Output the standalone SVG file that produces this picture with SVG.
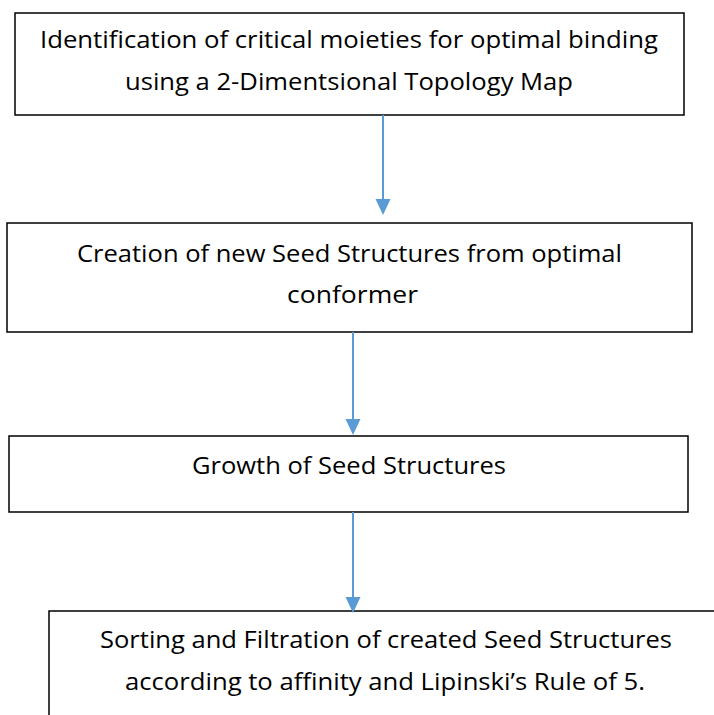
<svg xmlns="http://www.w3.org/2000/svg" width="714" height="715" viewBox="0 0 714 715">
  <style>
    .box { fill: #ffffff; stroke: #000000; stroke-width: 1.5; }
    .lbl { font-family: "Open Sans", "Liberation Sans", sans-serif; font-size: 23.5px; fill: #000000; text-anchor: middle; }
    .conn { stroke: #5B9BD5; stroke-width: 2; fill: none; marker-end: url(#arrow); }
  </style>
  <defs>
    <marker id="arrow" markerUnits="userSpaceOnUse" viewBox="0 0 16 16" markerWidth="16" markerHeight="16" refX="6" refY="8" orient="auto">
      <path d="M0,0.5 L16,8 L0,15.5 Z" fill="#5B9BD5"/>
    </marker>
  </defs>
  <rect width="714" height="715" fill="#ffffff"/>

  <g id="node1">
    <rect class="box" x="15" y="13" width="669" height="102"/>
    <text class="lbl" x="349" y="48" textLength="618" lengthAdjust="spacingAndGlyphs">Identification of critical moieties for optimal binding</text>
    <text class="lbl" x="349" y="90" textLength="448" lengthAdjust="spacingAndGlyphs">using a 2-Dimentsional Topology Map</text>
  </g>

  <g id="node2">
    <rect class="box" x="7" y="223" width="685" height="109"/>
    <text class="lbl" x="349.5" y="262" textLength="545" lengthAdjust="spacingAndGlyphs">Creation of new Seed Structures from optimal</text>
    <text class="lbl" x="352.5" y="303" textLength="131" lengthAdjust="spacingAndGlyphs">conformer</text>
  </g>

  <g id="node3">
    <rect class="box" x="9" y="436" width="679" height="76"/>
    <text class="lbl" x="349" y="474" textLength="314" lengthAdjust="spacingAndGlyphs">Growth of Seed Structures</text>
  </g>

  <g id="node4">
    <rect class="box" x="49" y="611" width="676" height="112"/>
    <text class="lbl" x="386" y="648" textLength="572" lengthAdjust="spacingAndGlyphs">Sorting and Filtration of created Seed Structures</text>
    <text class="lbl" x="385" y="690" textLength="520" lengthAdjust="spacingAndGlyphs">according to affinity and Lipinski’s Rule of 5.</text>
  </g>

  <g id="connectors">
    <line class="conn" x1="383" y1="115" x2="383" y2="205"/>
    <line class="conn" x1="353" y1="332" x2="353" y2="425"/>
    <line class="conn" x1="353" y1="512" x2="353" y2="603"/>
  </g>
</svg>
